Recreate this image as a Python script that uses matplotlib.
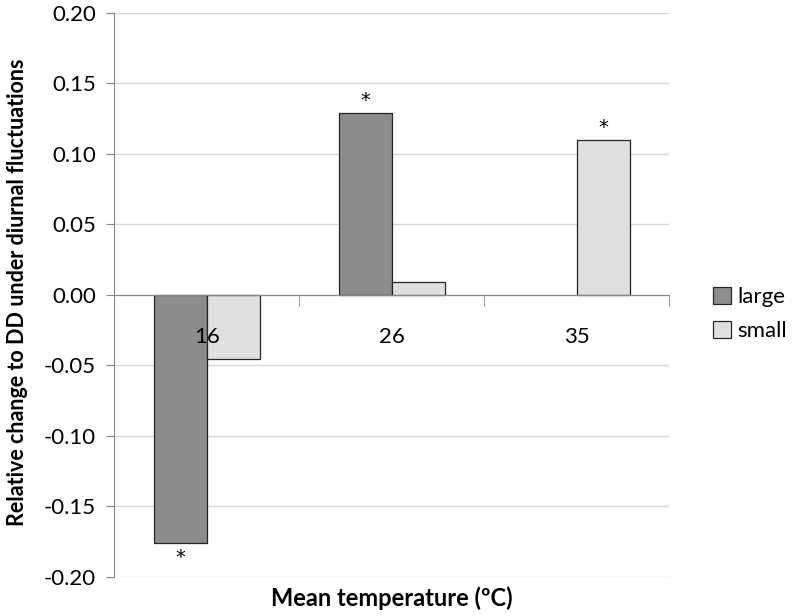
import matplotlib
matplotlib.use("Agg")
import matplotlib.pyplot as plt
from matplotlib.patches import Patch
import numpy as np

categories = ["16", "26", "35"]
large = [-0.176, 0.129, np.nan]
small = [-0.0455, 0.009, 0.110]
large_sig = [True, True, False]
small_sig = [False, False, True]
series_names = ["large", "small"]
yticks = [-0.20, -0.15, -0.10, -0.05, 0.00, 0.05, 0.10, 0.15, 0.20]

plt.rcParams['font.family'] = ['Lato', 'DejaVu Sans']

fig = plt.figure(figsize=(7.93, 6.16), dpi=100)
ax = fig.add_axes([0.1441, 0.0633, 0.844 - 0.1441, 0.9794 - 0.0633])

x = np.arange(len(categories))
w = 0.2865
c_large = "#8c8c8c"
c_small = "#e0e0e0"
edge = "#262626"

ax.bar(x - w / 2, large, w, color=c_large, edgecolor=edge, linewidth=0.9, zorder=3)
ax.bar(x + w / 2, small, w, color=c_small, edgecolor=edge, linewidth=0.9, zorder=3)


def star(xi, v):
    if v >= 0:
        ax.annotate("*", (xi, v), xytext=(0, 9), textcoords="offset points",
                    ha="center", va="center", fontsize=14, family="DejaVu Sans")
    else:
        ax.annotate("*", (xi, v), xytext=(0, -10), textcoords="offset points",
                    ha="center", va="center", fontsize=14, family="DejaVu Sans")


for xi, v, s in zip(x - w / 2, large, large_sig):
    if s and not np.isnan(v):
        star(xi, v)
for xi, v, s in zip(x + w / 2, small, small_sig):
    if s and not np.isnan(v):
        star(xi, v)

ax.set_xlim(-0.5, len(categories) - 0.5)
ax.set_ylim(-0.20, 0.20)
ax.set_yticks(yticks)
ax.set_yticklabels([f"{t:.2f}" for t in yticks], fontsize=16)
ax.yaxis.grid(True, color="#d9d9d9", linewidth=1.0, zorder=0)
ax.set_axisbelow(True)

for sp in ["top", "right"]:
    ax.spines[sp].set_visible(False)
ax.spines["left"].set_color("#868686")
ax.spines["bottom"].set_color("#868686")
ax.spines["bottom"].set_position(("data", 0))
ax.spines["bottom"].set_zorder(4)
ax.tick_params(axis="y", direction="out", length=6, color="#868686", pad=7)

# category labels drawn on top of bars, boundary ticks
ax.set_xticks(x)
ax.set_xticklabels([])
ax.tick_params(axis="x", which="major", length=0)
ax.set_xticks(np.arange(-0.5, len(categories)), minor=True)
ax.tick_params(axis="x", which="minor", direction="out", length=8, color="#868686")
for xi, lab in zip(x, categories):
    ax.annotate(lab, (xi, 0), xytext=(0, -30), textcoords="offset points",
                ha="center", va="center", fontsize=16, zorder=10,
                annotation_clip=False)

fig.text(391.5 / 793, 1 - 598 / 616, "Mean temperature (ºC)", fontsize=17,
         fontweight="bold", ha="center", va="center")
fig.text(18 / 793, 1 - 292 / 616, "Relative change to DD under diurnal fluctuations",
         fontsize=15.5, fontweight="bold", ha="center", va="center", rotation=90)

handles = [Patch(facecolor=c_large, edgecolor=edge, linewidth=0.9),
           Patch(facecolor=c_small, edgecolor=edge, linewidth=0.9)]
fig.legend(handles, series_names, loc="center left", bbox_to_anchor=(713 / 793, 1 - 314 / 616),
           frameon=False, fontsize=16, handlelength=0.8, handleheight=0.8,
           handletextpad=0.3, labelspacing=0.6, borderaxespad=0, borderpad=0)

fig.savefig("out.png", dpi=100)
